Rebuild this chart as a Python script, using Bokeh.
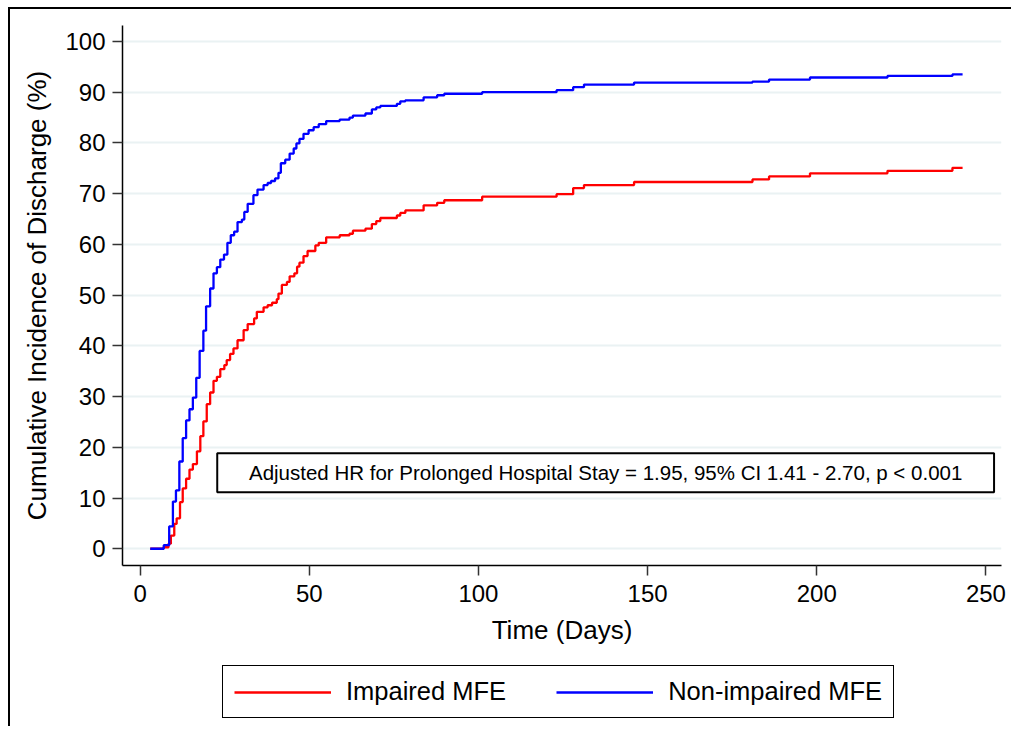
from bokeh.plotting import figure
from bokeh.layouts import column
from bokeh.models import Range1d, Legend, LegendItem, BoxAnnotation, Label, FixedTicker
from bokeh.embed import file_html
from bokeh.resources import INLINE

# ---- data ----
impaired_days = [3.0, 6.9, 8.4, 9.1, 10.1, 10.8, 11.8, 12.6, 13.6, 14.6, 15.6, 16.8, 17.8, 18.7,
                 19.7, 20.7, 21.7, 22.7, 23.7, 24.9, 25.6, 26.6, 27.6, 28.8, 30.6, 31.8, 33.7,
                 34.5, 36.5, 37.7, 39.0, 40.4, 40.9, 41.9, 43.4, 44.2, 45.6, 46.4, 47.1, 48.3,
                 49.5, 51.8, 52.8, 55.0, 59.0, 61.9, 62.9, 66.6, 68.5, 69.8, 71.0, 75.9, 76.9,
                 78.4, 83.8, 87.8, 89.9, 101.1, 123.1, 128.0, 131.2, 146.0, 181.0, 185.9, 198.0,
                 220.9, 240.1, 243.1]
impaired_pct = [0.0, 0.3, 1.0, 2.6, 4.9, 6.0, 9.2, 11.9, 13.8, 15.6, 16.7, 19.2, 22.2, 25.1,
                28.5, 30.8, 33.1, 33.9, 35.4, 36.2, 37.2, 38.4, 39.5, 41.1, 43.1, 44.3, 45.4,
                46.7, 47.6, 48.0, 48.5, 49.2, 50.3, 52.0, 52.6, 53.7, 54.3, 55.6, 56.4, 57.7,
                58.7, 59.8, 60.3, 61.4, 61.8, 62.1, 62.7, 63.1, 64.0, 64.6, 65.2, 65.7, 66.2,
                66.7, 67.7, 68.2, 68.7, 69.4, 69.9, 71.1, 71.7, 72.3, 72.8, 73.4, 74.0,
                74.5, 75.1, 75.1]

nonimpaired_days = [3.0, 7.0, 8.6, 9.7, 10.6, 11.6, 12.6, 13.6, 14.6, 15.6, 16.6, 17.6, 18.7,
                    19.5, 20.7, 21.7, 22.7, 23.7, 24.8, 25.8, 26.8, 27.8, 28.8, 30.1, 30.8, 31.8,
                    33.5, 34.7, 36.5, 37.7, 38.7, 39.9, 40.9, 41.6, 42.9, 44.2, 45.4, 46.2, 47.1,
                    48.3, 49.8, 51.3, 52.8, 55.0, 59.0, 61.9, 62.9, 66.6, 68.5, 69.8, 71.0, 75.9,
                    76.9, 78.4, 83.8, 87.8, 89.9, 101.1, 123.1, 128.0, 131.2, 146.0, 181.0,
                    185.9, 198.0, 220.9, 240.1, 243.1]
nonimpaired_pct = [0.0, 0.7, 4.4, 9.3, 11.5, 17.2, 21.8, 25.3, 27.5, 29.8, 33.7, 39.0, 43.0,
                   47.8, 51.3, 54.3, 55.5, 57.0, 58.0, 60.3, 61.8, 62.5, 64.4, 64.9, 66.4, 68.0,
                   69.7, 70.8, 71.7, 72.1, 72.5, 73.0, 74.1, 76.0, 76.7, 77.9, 78.9, 79.9, 80.8,
                   81.8, 82.5, 83.1, 83.7, 84.3, 84.6, 85.0, 85.4, 85.8, 86.6, 87.0, 87.3, 87.7,
                   88.2, 88.4, 89.0, 89.4, 89.7, 90.0, 90.4, 91.0, 91.5, 91.9, 92.1,
                   92.5, 92.9, 93.2, 93.5, 93.5]

x_ticks = [0, 50, 100, 150, 200, 250]
y_ticks = [0, 10, 20, 30, 40, 50, 60, 70, 80, 90, 100]
series_names = ["Impaired MFE", "Non-impaired MFE"]
series_colors = ["#FF0000", "#0000FF"]
annotation_text = "Adjusted HR for Prolonged Hospital Stay = 1.95, 95% CI 1.41 - 2.70, p < 0.001"

FONT = "Liberation Sans"
W = 1001

p = figure(width=W, height=650, output_backend="svg", toolbar_location=None,
           x_range=Range1d(-5.2, 254.6), y_range=Range1d(-3.3, 103.15),
           min_border_left=112, min_border_top=16, min_border_right=10, min_border_bottom=94,
           background_fill_color="white", border_fill_color="white")
p.outline_line_color = None

# grid
p.xgrid.grid_line_color = None
p.ygrid.grid_line_color = "#EAF2F3"
p.ygrid.grid_line_width = 2
p.ygrid.ticker = FixedTicker(ticks=y_ticks)

# axes
for ax in (p.xaxis[0], p.yaxis[0]):
    ax.axis_line_color = "black"
    ax.axis_line_width = 1.5
    ax.major_tick_line_color = "#333333"
    ax.major_tick_line_width = 1.5
    ax.major_tick_out = 10
    ax.major_tick_in = 0
    ax.minor_tick_line_color = None
    ax.major_label_text_font = FONT
    ax.major_label_text_font_size = "24px"
    ax.major_label_text_color = "black"
    ax.axis_label_text_font = FONT
    ax.axis_label_text_font_size = "26px"
    ax.axis_label_text_font_style = "normal"
    ax.axis_label_text_color = "black"

p.xaxis.ticker = FixedTicker(ticks=x_ticks)
p.yaxis.ticker = FixedTicker(ticks=y_ticks)
p.xaxis.axis_label = "Time (Days)"
p.yaxis.axis_label = "Cumulative Incidence of Discharge (%)"
p.xaxis.major_label_standoff = 9
p.xaxis.axis_label_standoff = 10
p.yaxis.major_label_standoff = 7
p.yaxis.axis_label_standoff = 10
p.yaxis.major_label_orientation = "horizontal"

# curves
p.step(impaired_days, impaired_pct, mode="after", line_color=series_colors[0], line_width=2.3)
p.step(nonimpaired_days, nonimpaired_pct, mode="after", line_color=series_colors[1], line_width=2.3)

# annotation box
box = BoxAnnotation(left=22.8, right=252.4, bottom=11.16, top=18.84,
                    fill_color="white", fill_alpha=1.0,
                    line_color="black", line_alpha=1.0, line_width=2)
p.add_layout(box)
lab = Label(x=137.6, y=15.0, text=annotation_text, text_align="center", text_baseline="middle",
            text_font=FONT, text_font_size="20.5px", text_color="black")
p.add_layout(lab)

# legend strip below the chart
p2 = figure(width=W, height=67, output_backend="svg", toolbar_location=None,
            x_range=Range1d(0, 1), y_range=Range1d(0, 1),
            x_axis_location=None, y_axis_location=None,
            min_border_left=112, min_border_right=10, min_border_top=0, min_border_bottom=0,
            background_fill_color="white", border_fill_color="white")
p2.outline_line_color = None
p2.grid.visible = False
nan = float("nan")
keys = [p2.line(x=[nan], y=[nan], line_color=c, line_width=2.5) for c in series_colors]

legend = Legend(items=[LegendItem(label=n, renderers=[r]) for n, r in zip(series_names, keys)],
                orientation="horizontal", location=(100, 8))
legend.label_text_font = FONT
legend.label_text_font_size = "25.5px"
legend.label_text_color = "black"
legend.glyph_width = 97
legend.glyph_height = 28
legend.label_standoff = 15
legend.spacing = 50
legend.padding = 11
legend.margin = 0
legend.border_line_color = "black"
legend.border_line_alpha = 1.0
legend.border_line_width = 1.5
legend.background_fill_color = "white"
legend.background_fill_alpha = 1.0
p2.add_layout(legend, "center")

layout = column(p, p2, spacing=0,
                styles={"margin-left": "8px", "margin-top": "7px",
                        "border-left": "2px solid black", "border-top": "2px solid black"})

open("out.html", "w").write(file_html(layout, INLINE))
